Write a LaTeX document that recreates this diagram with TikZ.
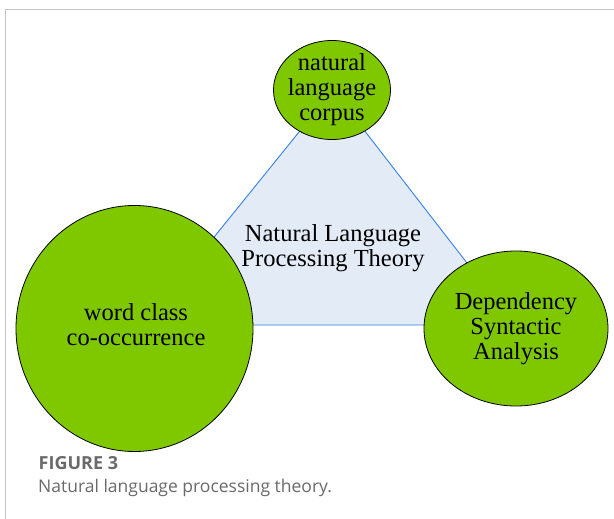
\documentclass[tikz,border=0pt]{standalone}
\usepackage{fontspec}
\setmainfont{Liberation Serif}
\newfontfamily\capfont{Open Sans}
\usetikzlibrary{shapes.geometric}
\definecolor{leafgreen}{HTML}{7FC800}
\definecolor{paleblue}{HTML}{E3EBF6}
\definecolor{edgeblue}{HTML}{3380E8}
\definecolor{framegray}{HTML}{C4C4C4}
\definecolor{capgray}{HTML}{6A6A6A}
\tikzset{
  bubble/.style={ellipse, draw=black, line width=0.8pt, fill=leafgreen, inner sep=0pt},
  label text/.style={align=center, font=\fontsize{24.5}{25}\selectfont, text=black},
  caption text/.style={anchor=base west, inner sep=0pt, text=capgray},
}
\begin{document}
\begin{tikzpicture}[x=1pt, y=-1pt]
\useasboundingbox (0,0) rectangle (614,519);
\fill[white] (0,0) rectangle (614,519);
% frame lines
\draw[framegray, line width=1pt] (5,519) -- (5,9.5) -- (614,9.5);
% central triangle
\coordinate (apex) at (333,90);
\coordinate (lcorner) at (143,325);
\coordinate (rcorner) at (515,325);
\filldraw[fill=paleblue, draw=edgeblue, line width=0.9pt] (apex) -- (lcorner) -- (rcorner) -- cycle;
\node[label text] (theory) at (333,248) {Natural Language\\Processing Theory};
% the three bubbles
\node[bubble, minimum width=117pt, minimum height=99pt] (corpus) at (332,90) {};
\node[label text] (corpustext) at (corpus) {natural\\language\\corpus};
\node[bubble, minimum width=237pt, minimum height=246pt] (wordclass) at (134.5,328.5) {};
\node[label text] (wordtext) at (136,325) {word class\\co-occurrence};
\node[bubble, minimum width=184pt, minimum height=155pt] (dependency) at (516,328.5) {};
\node[label text] (deptext) at (dependency) {Dependency\\Syntactic\\Analysis};
% caption
\node[caption text, font=\capfont\bfseries\fontsize{18}{20}\selectfont] (fig) at (38.5,469) {FIGURE 3};
\node[caption text, font=\capfont\fontsize{17.5}{20}\selectfont] (cap) at (38,492) {Natural language processing theory.};
\end{tikzpicture}
\end{document}
